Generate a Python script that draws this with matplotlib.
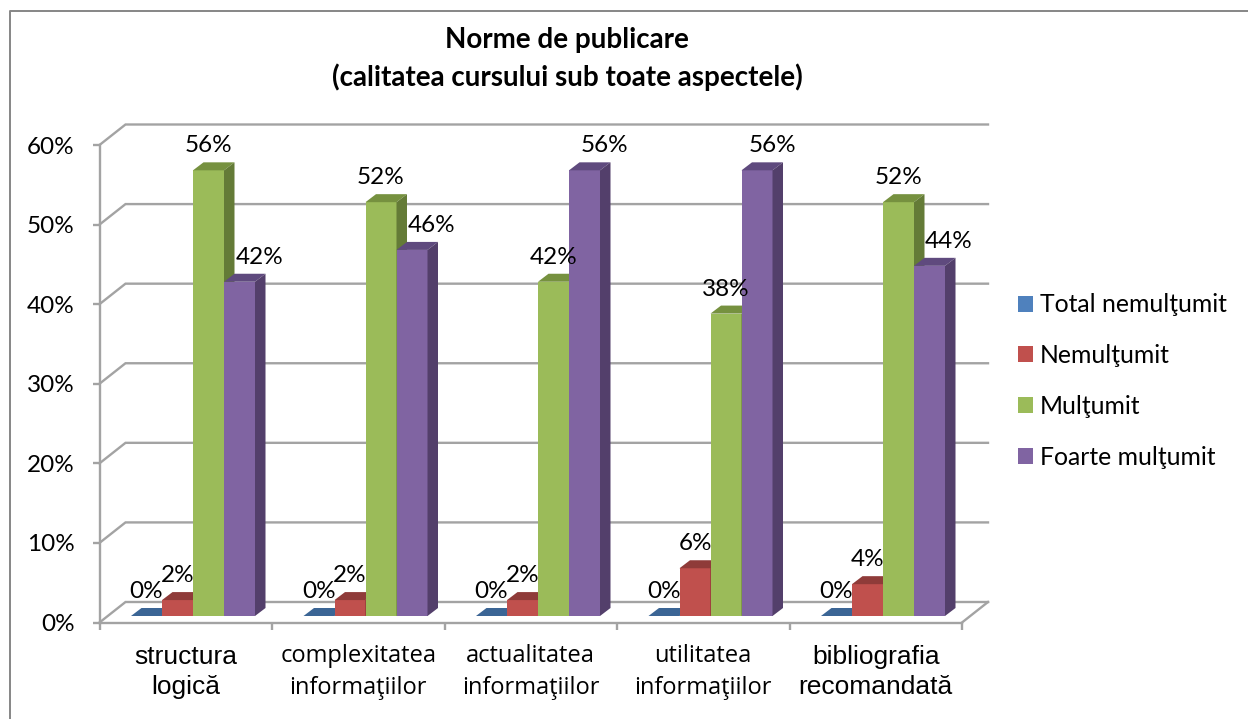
import numpy as np
import matplotlib
matplotlib.use('Agg')
import matplotlib.pyplot as plt
from matplotlib.lines import Line2D
from matplotlib.patches import Patch

categories = ['structura\nlogică', 'complexitatea\ninformaţiilor', 'actualitatea\ninformaţiilor',
              'utilitatea\ninformaţiilor', 'bibliografia\nrecomandată']
series_names = ['Total nemulţumit', 'Nemulţumit', 'Mulţumit', 'Foarte mulţumit']
total_nemultumit = [0, 0, 0, 0, 0]
nemultumit = [2, 2, 2, 6, 4]
multumit = [56, 52, 42, 38, 52]
foarte_multumit = [42, 46, 56, 56, 44]
y_ticks = [0, 10, 20, 30, 40, 50, 60]

face_cols = ['#4F81BD', '#C0504D', '#9BBB59', '#8064A2']
top_cols = ['#3B6595', '#8F3B39', '#76913F', '#5F4A7E']
side_cols = ['#335680', '#7F3331', '#647B37', '#533F6B']

W, H = 1248, 719
plt.rcParams['font.family'] = ['Lato', 'DejaVu Sans']

fig = plt.figure(figsize=(W / 100, H / 100), dpi=100)
fig.patch.set_facecolor('white')
# chart frame, only top and left fall inside the picture
fig.add_artist(Line2D([9.5 / W, 9.5 / W, 1], [0, 1 - 10.5 / H, 1 - 10.5 / H], color='#868686', lw=1.4))

# front plane of the fake 3d box, in pixels
x0, x1 = 99.5, 962
y0, y1 = 622.5, 145
ax = fig.add_axes([x0 / W, 1 - y0 / H, (x1 - x0) / W, (y0 - y1) / H])
ax.set_xlim(0, 5)
ax.set_ylim(0, 60)
ax.patch.set_alpha(0)
px = 5 / (x1 - x0)
py = 60 / (y0 - y1)

# wall and floor
grid = '#A3A3A3'
wall_dx, wall_dy = 26 * px, 20.5 * py
for t in y_ticks:
    ax.plot([0, wall_dx, 5 + wall_dx], [t, t + wall_dy, t + wall_dy], color=grid, lw=1.7,
            clip_on=False, zorder=1, solid_joinstyle='miter')
ax.plot([5, 5 + wall_dx], [0, wall_dy], color=grid, lw=1.7, clip_on=False, zorder=1)

# bars
bar_w = 31 * px
lift = 6.5 * py
dep_x, dep_y = 10.5 * px, 8 * py
start = 31.5 * px
all_series = [total_nemultumit, nemultumit, multumit, foarte_multumit]
z = 3
for i, vals in enumerate(all_series):
    for g, v in enumerate(vals):
        left = g + start + i * bar_w
        top = v + lift
        ax.bar(left, v, bar_w, bottom=lift, align='edge', color=face_cols[i], lw=0, zorder=z + i * 3,
               clip_on=False)
        ax.fill([left, left + dep_x, left + bar_w + dep_x, left + bar_w],
                [top, top + dep_y, top + dep_y, top], color=top_cols[i], lw=0, zorder=z + i * 3 + 1,
                clip_on=False)
        if v > 0:
            ax.fill([left + bar_w, left + bar_w + dep_x, left + bar_w + dep_x, left + bar_w],
                    [lift, lift + dep_y, top + dep_y, top], color=side_cols[i], lw=0,
                    zorder=z + i * 3 + 1, clip_on=False)

# value labels, the last series sits off to the right like in the original
purple_shift = [20, 20, 20, 15, 19]
for i, vals in enumerate(all_series):
    for g, v in enumerate(vals):
        xc = g + start + (i + 0.5) * bar_w
        if i == 3:
            xc += purple_shift[g] * px
        ax.text(xc, v + lift + 24.5 * py, '%d%%' % v, ha='center', va='center', fontsize=17.5,
                color='black', zorder=40, clip_on=False)

# axes
for s in ['top', 'right']:
    ax.spines[s].set_visible(False)
for s in ['left', 'bottom']:
    ax.spines[s].set_color(grid)
    ax.spines[s].set_linewidth(1.7)
ax.set_yticks(y_ticks)
ax.set_yticklabels(['%d%%' % t for t in y_ticks], fontsize=17.5)
ax.set_xticks(range(6))
ax.set_xticklabels([])
ax.tick_params(axis='y', length=5, width=1.7, color=grid, pad=13)
ax.tick_params(axis='x', length=5, width=1.7, color=grid)

cat_fonts = ['Liberation Sans', 'Open Sans', 'Open Sans', 'Open Sans', 'Liberation Sans']
cat_sizes = [19, 17, 17, 17, 19]
cat_space = [1.31, 1.43, 1.43, 1.43, 1.31]
for g, lab in enumerate(categories):
    ax.text(g + 0.5, -49.5 * py, lab, ha='center', va='center', fontsize=cat_sizes[g],
            family=[cat_fonts[g], 'DejaVu Sans'], linespacing=cat_space[g], clip_on=False)

fig.text(567 / W, 1 - 59 / H, 'Norme de publicare\n(calitatea cursului sub toate aspectele)',
         ha='center', va='center', fontsize=20, fontweight='bold', linespacing=1.5)

handles = [Patch(color=c, lw=0) for c in face_cols]
fig.legend(handles, series_names, loc='center left', bbox_to_anchor=(1018 / W, 1 - 381 / H), frameon=False,
           fontsize=17.8, handlelength=0.62, handleheight=0.62, handletextpad=0.25, labelspacing=1.12,
           borderpad=0, borderaxespad=0)

fig.savefig('out.png', dpi=100)
